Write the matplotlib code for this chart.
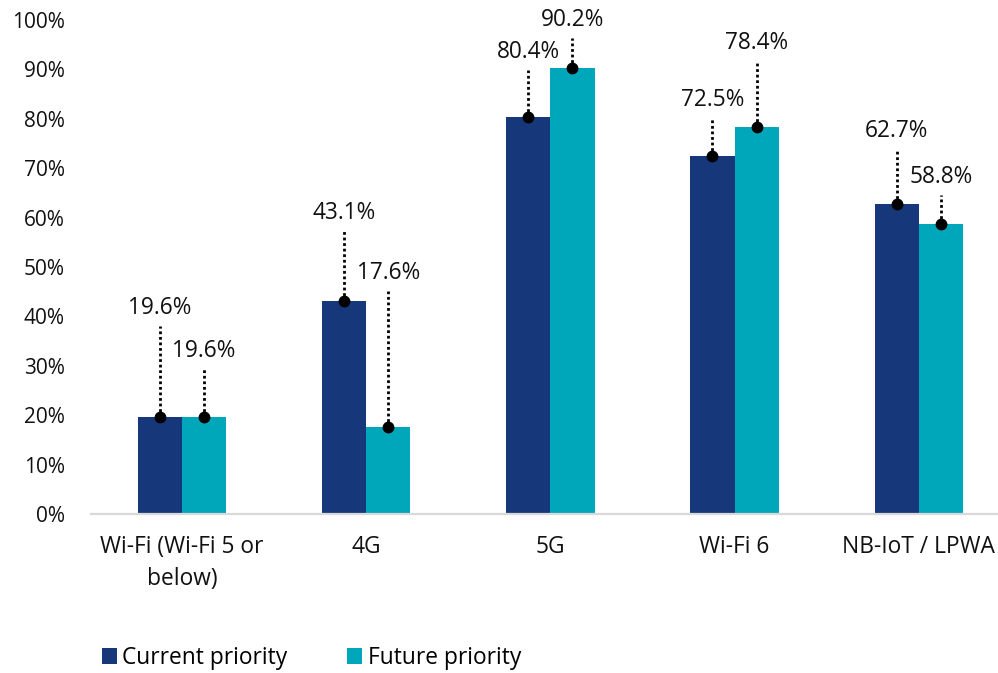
import matplotlib
matplotlib.use('Agg')
import matplotlib.pyplot as plt
import numpy as np

plt.rcParams['font.family'] = ['Open Sans', 'DejaVu Sans']

categories = ['Wi-Fi (Wi-Fi 5 or\nbelow)', '4G', '5G', 'Wi-Fi 6', 'NB-IoT / LPWA']
current = [19.6, 43.1, 80.4, 72.5, 62.7]
future = [19.6, 17.6, 90.2, 78.4, 58.8]

# where the data labels were dragged to (label centre, in % units)
current_label_y = [41.8, 61.0, 93.6, 83.9, 77.5]
future_label_y = [33.0, 48.8, 100.0, 95.3, 68.2]

c_cur = '#17377b'
c_fut = '#00a6b9'

fig = plt.figure(figsize=(9.98, 6.73), dpi=100)
ax = fig.add_axes([91/998, 159/673, 1 - 91/998, (514-20)/673])

x = np.arange(len(categories))
w = 0.24
ax.bar(x - w/2, current, w, color=c_cur, label='Current priority', zorder=2)
ax.bar(x + w/2, future, w, color=c_fut, label='Future priority', zorder=2)

def leaders(xs, vals, labs):
    for xi, v, ly in zip(xs, vals, labs):
        ax.plot([xi, xi], [v, ly - 3.7], color='black', lw=2.0,
                linestyle=(0, (1, 1)), zorder=3, clip_on=False)
        ax.plot(xi, v, 'o', color='black', ms=7.5, zorder=4, clip_on=False)
        ax.text(xi, ly, '%.1f%%' % v, ha='center', va='center',
                fontsize=16.3, color='#111111', clip_on=False)

leaders(x - w/2, current, current_label_y)
leaders(x + w/2, future, future_label_y)

ax.set_xlim(-0.494, 4.43)
ax.set_ylim(0, 100)
ax.set_yticks(np.arange(0, 101, 10))
ax.set_yticklabels(['%d%%' % t for t in range(0, 101, 10)])
ax.set_xticks(x)
ax.set_xticklabels(categories, linespacing=1.45)
ax.tick_params(axis='y', length=0, pad=19, labelsize=15, labelcolor='#111111')
ax.tick_params(axis='x', length=0, pad=15, labelsize=16.4, labelcolor='#111111')

for s in ['top', 'right', 'left']:
    ax.spines[s].set_visible(False)
ax.spines['bottom'].set_color('#d9d9d9')
ax.spines['bottom'].set_linewidth(1.6)

leg = fig.legend(loc='center left', bbox_to_anchor=(81/998, 1 - 658/673), ncol=2,
                 frameon=False, fontsize=16.4, handlelength=0.66, handleheight=0.66,
                 handletextpad=0.26, columnspacing=2.6)

fig.savefig('out.png', dpi=100)
